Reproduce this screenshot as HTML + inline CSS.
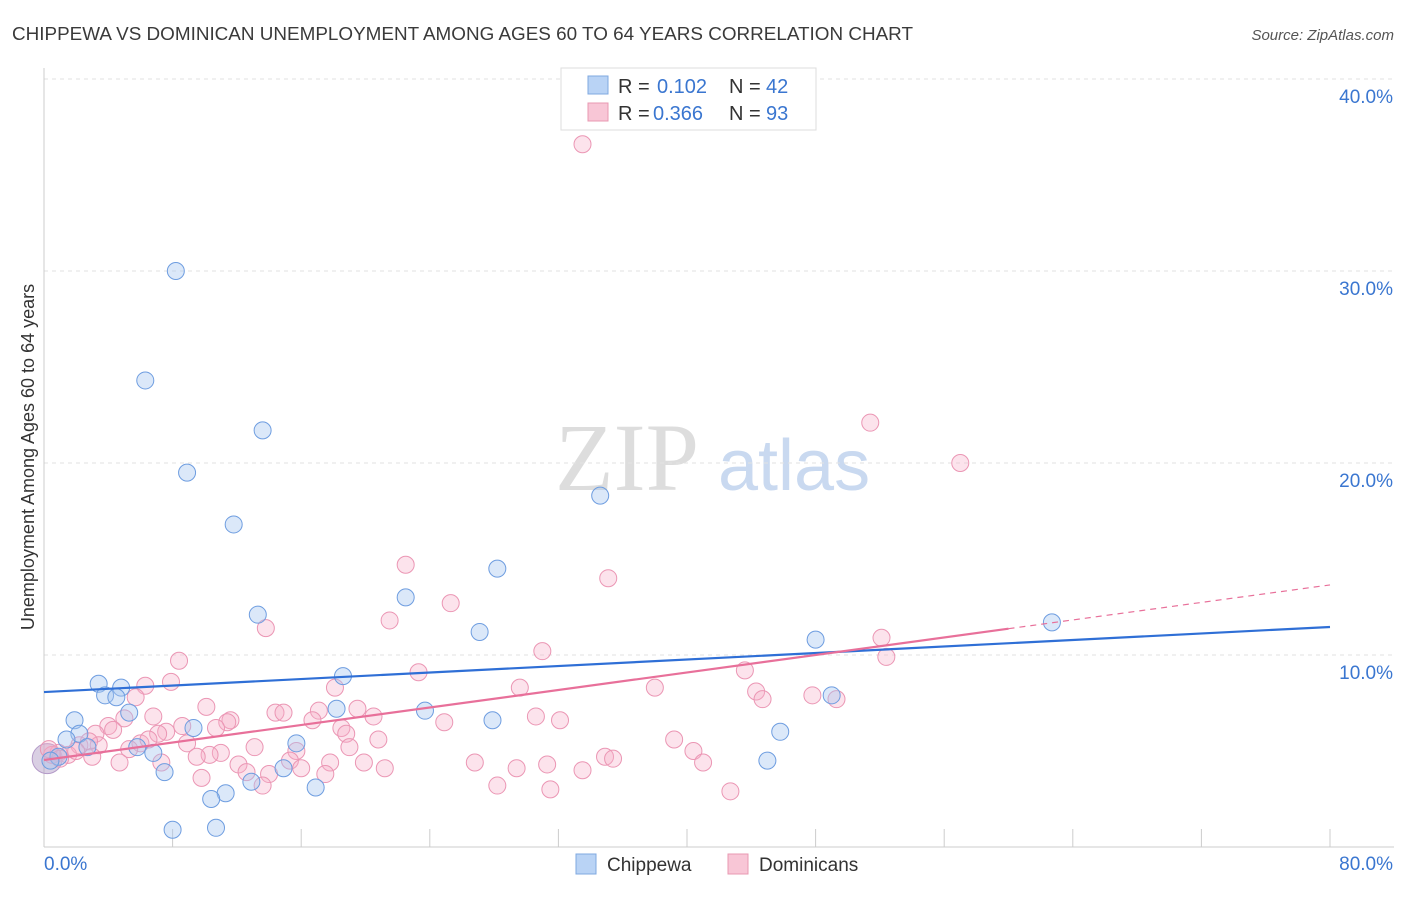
<!DOCTYPE html>
<html><head><meta charset="utf-8">
<style>
body{margin:0;background:#fff;font-family:"Liberation Sans",sans-serif;}
svg text{font-family:"Liberation Sans",sans-serif;}
</style></head>
<body>
<svg id="chart" width="1406" height="892" viewBox="0 0 1406 892" xmlns="http://www.w3.org/2000/svg">
<text x="12" y="40" font-size="18" fill="#3a3a3a" textLength="901" lengthAdjust="spacingAndGlyphs">CHIPPEWA VS DOMINICAN UNEMPLOYMENT AMONG AGES 60 TO 64 YEARS CORRELATION CHART</text>
<text x="1394" y="40" font-size="15" fill="#555" text-anchor="end" font-style="italic">Source: ZipAtlas.com</text>
<g>
<text x="555" y="490" font-size="96" fill="#ddd" font-family="Liberation Serif" style="font-family:'Liberation Serif',serif">ZIP</text>
<text x="718" y="490" font-size="72" fill="#c9d9f0">atlas</text>
</g>
<g id="grid"></g>
<g id="axes"></g>
<g id="marks"></g>
<g id="lines"></g>
<text transform="translate(34,457) rotate(-90)" font-size="18" fill="#333" text-anchor="middle">Unemployment Among Ages 60 to 64 years</text>
<g>
<rect x="561" y="68" width="255" height="62" fill="#fff" stroke="#ddd"/>
<rect x="588" y="76" width="20" height="18" fill="#b9d3f5" stroke="#7fa8e0"/>
<text x="618" y="93" font-size="20" fill="#333">R =</text>
<text x="657" y="93" font-size="20" fill="#3a76d0">0.102</text>
<text x="729" y="93" font-size="20" fill="#333">N =</text>
<text x="766" y="93" font-size="20" fill="#3a76d0">42</text>
<rect x="588" y="103" width="20" height="18" fill="#f8c6d6" stroke="#e898b2"/>
<text x="618" y="120" font-size="20" fill="#333">R =</text>
<text x="653" y="120" font-size="20" fill="#3a76d0">0.366</text>
<text x="729" y="120" font-size="20" fill="#333">N =</text>
<text x="766" y="120" font-size="20" fill="#3a76d0">93</text>
</g>
<g>
<rect x="576" y="854" width="20" height="20" fill="#b9d3f5" stroke="#7fa8e0"/>
<text x="607" y="871" font-size="19" fill="#333">Chippewa</text>
<rect x="728" y="854" width="20" height="20" fill="#f8c6d6" stroke="#e898b2"/>
<text x="759" y="871" font-size="19" fill="#333">Dominicans</text>
</g>
</svg>
<script>
const yTicks=[10,20,30,40];
const yTickLabels=["10.0%","20.0%","30.0%","40.0%"];
const xTickLabels=["0.0%","80.0%"];
const chippewaX=[8.2,6.3,13.6,8.9,11.8,34.6,28.2,22.5,13.3,27.1,62.7,48.0,18.6,3.4,4.8,3.8,4.5,49.0,18.2,23.7,5.3,1.9,27.9,9.3,45.8,2.2,1.4,15.7,5.8,2.7,6.8,0.9,0.4,45.0,14.9,7.5,12.9,16.9,11.3,10.4,8.0,10.7];
const chippewaY=[30.0,24.3,21.7,19.5,16.8,18.3,14.5,13.0,12.1,11.2,11.7,10.8,8.9,8.5,8.3,7.9,7.8,7.9,7.2,7.1,7.0,6.6,6.6,6.2,6.0,5.9,5.6,5.4,5.2,5.2,4.9,4.7,4.5,4.5,4.1,3.9,3.4,3.1,2.8,2.5,0.9,1.0];
const domX=[33.5,51.4,57.0,22.5,35.1,25.3,21.5,13.8,52.1,31.0,52.4,8.4,23.3,43.6,7.9,6.3,29.6,18.1,38.0,44.3,47.8,44.7,49.3,5.7,10.1,19.5,17.1,14.4,14.9,20.5,6.8,5.0,11.6,11.4,16.7,24.9,30.6,32.1,8.6,10.7,4.0,18.5,7.6,4.3,7.1,3.2,18.8,20.8,39.2,6.0,8.9,3.4,2.2,13.1,19.0,15.7,40.4,5.3,0.9,11.0,10.3,1.5,9.5,34.9,35.4,15.3,17.8,26.8,31.3,41.0,7.3,4.7,19.9,12.1,16.0,29.4,21.2,33.5,12.6,14.0,17.5,9.8,28.2,13.6,31.5,42.7,0.5,0.3,2.8,1.0,2.0,3.0,6.5];
const domY=[36.6,22.1,20.0,14.7,14.0,12.7,11.8,11.4,10.9,10.2,9.9,9.7,9.1,9.2,8.6,8.4,8.3,8.3,8.3,8.1,7.9,7.7,7.7,7.8,7.3,7.2,7.1,7.0,7.0,6.8,6.8,6.7,6.6,6.5,6.6,6.5,6.8,6.6,6.3,6.2,6.3,6.2,6.0,6.1,5.9,5.9,5.9,5.6,5.6,5.4,5.4,5.3,5.3,5.2,5.2,5.0,5.0,5.1,4.9,4.9,4.8,4.8,4.7,4.7,4.6,4.5,4.4,4.4,4.3,4.4,4.4,4.4,4.4,4.3,4.1,4.1,4.1,4.0,3.9,3.8,3.8,3.6,3.2,3.2,3.0,2.9,4.8,5.1,5.5,4.6,5.0,4.7,5.6];
const chippewaTrend=[8.07,11.46];
const domTrend=[4.53,13.65];
const NS="http://www.w3.org/2000/svg";
const xs=v=>44+v*(1286/80);
const ys=v=>847-v*19.2;
function mk(tag,attrs,parent){const e=document.createElementNS(NS,tag);for(const k in attrs)e.setAttribute(k,attrs[k]);parent.appendChild(e);return e;}
const grid=document.getElementById('grid'),axes=document.getElementById('axes'),marks=document.getElementById('marks'),lines=document.getElementById('lines');
yTicks.forEach((t,i)=>{
 const l=mk('line',{x1:44,x2:1394,y1:ys(t),y2:ys(t),stroke:'#e2e2e2','stroke-dasharray':'4,4'},grid);
 
 
 const tx=mk('text',{x:1393,y:ys(t)+24,'font-size':19,fill:'#3a76d0','text-anchor':'end'},axes);
 tx.textContent=yTickLabels[i];
 
 
});
mk('line',{x1:44,x2:44,y1:68,y2:847,stroke:'#ccc'},axes);
mk('line',{x1:44,x2:1394,y1:847,y2:847,stroke:'#ccc'},axes);
for(let i=0;i<=10;i++){const t=mk('line',{x1:xs(i*8),x2:xs(i*8),y1:829,y2:847,stroke:'#ccc'},axes);
 
 }
const xl0=mk('text',{x:44,y:870,'font-size':19,fill:'#3a76d0'},axes);xl0.textContent=xTickLabels[0];


const xl1=mk('text',{x:1393,y:870,'font-size':19,fill:'#3a76d0','text-anchor':'end'},axes);xl1.textContent=xTickLabels[1];


const big1=mk('circle',{cx:xs(0.2),cy:ys(4.6),r:15,fill:'rgba(180,160,200,0.5)',stroke:'#b49ac8'},marks);


domX.forEach((x,i)=>{const c=mk('circle',{cx:xs(x),cy:ys(domY[i]),r:8.5,fill:'rgba(245,175,200,0.35)',stroke:'#eb96b4','stroke-width':1},marks);
 
 });
chippewaX.forEach((x,i)=>{const c=mk('circle',{cx:xs(x),cy:ys(chippewaY[i]),r:8.5,fill:'rgba(165,198,240,0.4)',stroke:'#6e9de0','stroke-width':1},marks);
 
 });
const bl=mk('line',{x1:xs(0),y1:ys(chippewaTrend[0]),x2:xs(80),y2:ys(chippewaTrend[1]),stroke:'#2f6fd6','stroke-width':2.2},lines);


const f=60;const mid=domTrend[0]+(domTrend[1]-domTrend[0])*f/80;
const pl=mk('line',{x1:xs(0),y1:ys(domTrend[0]),x2:xs(f),y2:ys(mid),stroke:'#e8709a','stroke-width':2.2},lines);


const pd=mk('line',{x1:xs(f),y1:ys(mid),x2:xs(80),y2:ys(domTrend[1]),stroke:'#e8709a','stroke-width':1.2,'stroke-dasharray':'6,5'},lines);


</script>
</body></html>
